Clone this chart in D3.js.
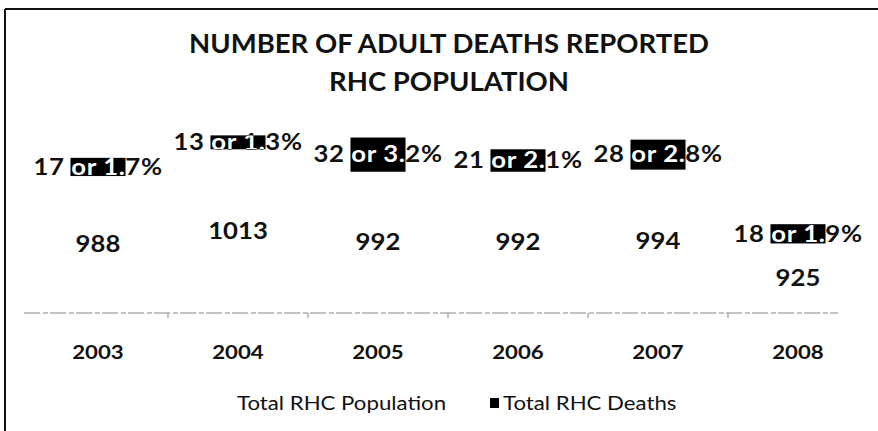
<!DOCTYPE html>
<html>
<head>
<meta charset="utf-8">
<script src="https://cdn.jsdelivr.net/npm/d3@7"></script>
<style>
  html, body { margin: 0; padding: 0; background: #fff; }
  svg { display: block; }
  text { font-family: Lato, "Open Sans", sans-serif; fill: #111; }
</style>
</head>
<body>
<svg id="chart"></svg>
<script>
// Données du graphique
const years = ["2003", "2004", "2005", "2006", "2007", "2008"];
const population = [988, 1013, 992, 992, 994, 925];
const deaths = [17, 13, 32, 21, 28, 18];
const deathPct = ["1.7", "1.3", "3.2", "2.1", "2.8", "1.9"];
const seriesNames = ["Total RHC Population", "Total RHC Deaths"];
const seriesColors = ["#fff", "#000"];
const titleLines = ["NUMBER OF ADULT DEATHS REPORTED", "RHC POPULATION"];

const width = 878;
const height = 431;
const stretch = 1.17; // le scan est étiré horizontalement

const rows = years.map((yr, i) => ({ year: yr, pop: population[i], deaths: deaths[i], pct: deathPct[i] }));

const svg = d3.select("#chart").attr("width", width).attr("height", height);

// cadre (scan : bord haut + bord gauche)
svg.append("line")
  .attr("x1", 5).attr("x2", width).attr("y1", 9).attr("y2", 9)
  .attr("stroke", "#111").attr("stroke-width", 2);
svg.append("line")
  .attr("x1", 5).attr("x2", 5).attr("y1", 9).attr("y2", height)
  .attr("stroke", "#111").attr("stroke-width", 2);

// Titre
svg.append("g").selectAll("text")
  .data(titleLines)
  .join("text")
  .attr("x", 449)
  .attr("y", (d, i) => 53 + i * 38)
  .attr("text-anchor", "middle")
  .style("font-size", "27.5px")
  .style("font-weight", "bold")
  .text(d => d);

// Echelles
const x = d3.scaleBand().domain(years).range([28, 868])
  .paddingInner(0.607).paddingOuter(0.3035);
const y = d3.scaleLinear().domain([860, 1040]).range([313, 120.4]);
const baseY = y(860);

const cx = d => x(d) + x.bandwidth() / 2;

// Empilement population + décès
const stack = d3.stack().keys(["pop", "deaths"]);
const series = stack(rows);

svg.append("g").selectAll("g")
  .data(series)
  .join("g")
  .attr("fill", (s, i) => seriesColors[i])
  .selectAll("rect")
  .data(s => s)
  .join("rect")
  .attr("x", d => x(d.data.year))
  .attr("width", x.bandwidth())
  .attr("y", d => y(d[1]))
  .attr("height", d => y(Math.max(d[0], 860)) - y(d[1]));

// Axe horizontal
const axis = svg.append("g");
axis.append("line")
  .attr("x1", x.range()[0] - 4).attr("x2", x.range()[1] - 30)
  .attr("y1", baseY).attr("y2", baseY)
  .attr("stroke", "#888").attr("stroke-width", 1.2)
  .attr("stroke-dasharray", "16 3 5 2");
axis.selectAll(".tick")
  .data(years.slice(1))
  .join("line")
  .attr("x1", d => x(d) - x.step() * x.paddingInner() / 2)
  .attr("x2", d => x(d) - x.step() * x.paddingInner() / 2)
  .attr("y1", baseY).attr("y2", baseY + 5)
  .attr("stroke", "#888");
axis.selectAll("text")
  .data(years)
  .join("text")
  .attr("transform", d => "translate(" + cx(d) + ",352) scale(" + stretch + ",1)")
  .attr("dy", "0.35em")
  .attr("text-anchor", "middle")
  .style("font-size", "19px")
  .style("font-weight", "bold")
  .text(d => d);

// étiquettes population (centre du segment)
svg.append("g").selectAll("text")
  .data(series[0])
  .join("text")
  .attr("transform", d => "translate(" + cx(d.data.year) + "," + (baseY + y(d[1])) / 2 + ") scale(" + stretch + ",1)")
  .attr("dy", "0.35em")
  .attr("text-anchor", "middle")
  .style("font-size", "22px")
  .style("font-weight", "bold")
  .text(d => d.data.pop);

// étiquettes décès (centre du segment noir, texte blanc sur la barre)
const deathG = svg.append("g");
const defs = svg.append("defs");
series[1].forEach((d, i) => {
  const ly = (y(d[0]) + y(d[1])) / 2;
  const label = d.data.deaths + " or " + d.data.pct + "%";
  const tf = "translate(" + cx(d.data.year) + "," + ly + ") scale(" + stretch + ",1)";

  defs.append("clipPath").attr("id", "clip" + i)
    .append("rect")
    .attr("x", x(d.data.year))
    .attr("width", x.bandwidth())
    .attr("y", y(d[1]))
    .attr("height", y(d[0]) - y(d[1]));

  deathG.append("text")
    .attr("transform", tf)
    .attr("dy", "0.35em")
    .attr("text-anchor", "middle")
    .style("font-size", "22px")
    .style("letter-spacing", "0.5px")
    .style("font-weight", "bold")
    .text(label);

  deathG.append("g").attr("clip-path", "url(#clip" + i + ")")
    .append("text")
    .attr("transform", tf)
    .attr("dy", "0.35em")
    .attr("text-anchor", "middle")
    .style("font-size", "22px")
    .style("letter-spacing", "0.5px")
    .style("font-weight", "bold")
    .style("fill", "#fff")
    .text(label);
});

// Légende
const legend = svg.append("g").attr("transform", "translate(0,403)");
const legendX = [237, 490];
seriesNames.forEach((name, i) => {
  legend.append("rect")
    .attr("x", legendX[i])
    .attr("y", -5)
    .attr("width", 9).attr("height", 10)
    .attr("fill", seriesColors[i]);
  legend.append("text")
    .attr("transform", "translate(" + (legendX[i] + (i === 0 ? 0 : 13)) + ",0) scale(" + stretch + ",1)")
    .attr("dy", "0.35em")
    .style("font-size", "19px")
    .text(name);
});
</script>
</body>
</html>
